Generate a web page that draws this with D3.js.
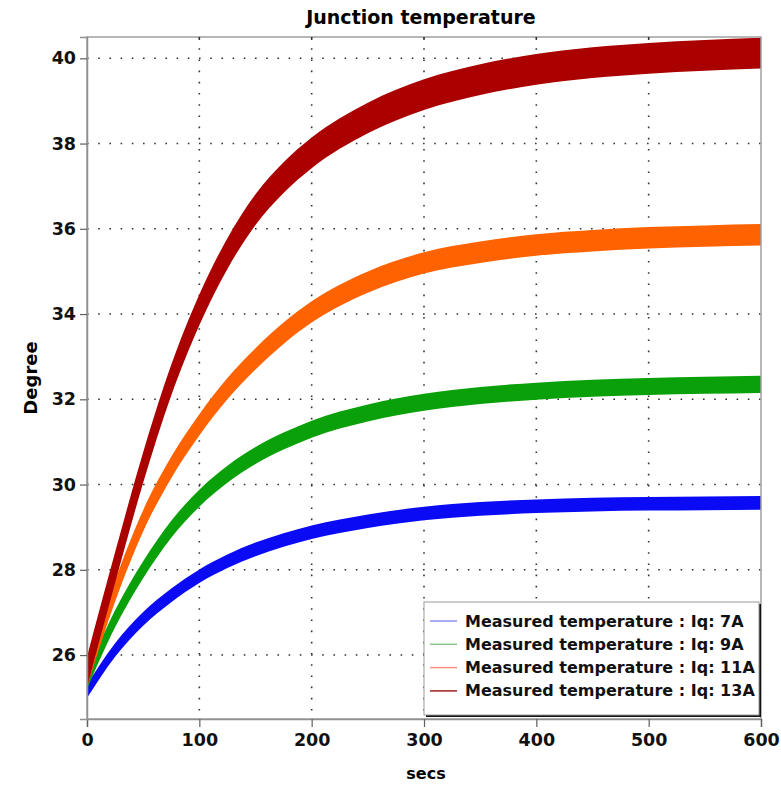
<!DOCTYPE html>
<html>
<head>
<meta charset="utf-8">
<script src="https://cdn.jsdelivr.net/npm/d3@7.9.0/dist/d3.min.js"></script>
<style>
  body { margin: 0; background: #fff; }
  svg { display: block; font-family: "DejaVu Sans", sans-serif; }
</style>
</head>
<body>
<svg id="chart" width="781" height="787"></svg>
<script>
// time axis (secs) and read-off band centres (Degree)
const times = [0, 25, 50, 75, 100, 125, 150, 175, 200, 250, 300, 350, 400, 450, 500, 550, 600];
const temp7A  = [25.15, 26.12, 26.85, 27.4, 27.85, 28.2, 28.48, 28.7, 28.88, 29.14, 29.32, 29.43, 29.49, 29.53, 29.55, 29.56, 29.57];
const temp9A  = [25.4, 26.85, 28.0, 28.95, 29.68, 30.24, 30.68, 31.02, 31.3, 31.68, 31.93, 32.09, 32.19, 32.26, 32.3, 32.33, 32.35];
const temp11A = [25.5, 27.5, 29.15, 30.4, 31.4, 32.25, 32.95, 33.55, 34.05, 34.75, 35.2, 35.45, 35.62, 35.72, 35.79, 35.83, 35.86];
const temp13A = [25.6, 28.05, 30.4, 32.45, 34.1, 35.42, 36.45, 37.2, 37.78, 38.6, 39.15, 39.5, 39.74, 39.9, 40.0, 40.07, 40.12];
// measured ripple, full thickness of each band in degrees
const ripple = [0.32, 0.4, 0.5, 0.72];

const seriesNames = ["Measured temperature : Iq: 7A", "Measured temperature : Iq: 9A",
                     "Measured temperature : Iq: 11A", "Measured temperature : Iq: 13A"];
const bandColors = ["#0a0af5", "#0aa00a", "#ff6200", "#aa0000"];
const legendColors = ["#8c8cf0", "#8cc48c", "#f49080", "#a02020"];
const xTicks = [0, 100, 200, 300, 400, 500, 600];
const yTicks = [26, 28, 30, 32, 34, 36, 38, 40];

const svg = d3.select("#chart");
const margin = { left: 87, top: 37, right: 20, bottom: 68 };
const W = 781 - margin.left - margin.right;
const H = 787 - margin.top - margin.bottom;

const x = d3.scaleLinear().domain([0, 600]).range([0, W]);
const y = d3.scaleLinear().domain([24.5, 40.5]).range([H, 0]);

const g = svg.append("g").attr("transform", `translate(${margin.left},${margin.top})`);

// title
svg.append("text")
    .attr("x", margin.left + W / 2 - 3).attr("y", 24)
    .attr("text-anchor", "middle")
    .attr("font-size", 19).attr("font-weight", "bold")
    .text("Junction temperature");

// dotted grid
const grid = g.append("g").attr("stroke", "#333").attr("stroke-width", 1.6)
    .attr("stroke-dasharray", "1.6 9.6");
xTicks.slice(1, -1).forEach(t => {
    grid.append("line").attr("x1", x(t)).attr("x2", x(t)).attr("y1", 0).attr("y2", H);
});
yTicks.forEach(t => {
    grid.append("line").attr("x1", 0).attr("x2", W).attr("y1", y(t)).attr("y2", y(t));
});

// bands
const series = [temp7A, temp9A, temp11A, temp13A];
series.forEach((vals, i) => {
    const pts = times.map((t, k) => ({ t, v: vals[k] }));
    const area = d3.area()
        .x(d => x(d.t))
        .y0(d => y(d.v - ripple[i] / 2))
        .y1(d => y(d.v + ripple[i] / 2))
        .curve(d3.curveMonotoneX);
    g.append("path").attr("d", area(pts)).attr("fill", bandColors[i]);
});

// frame
g.append("rect").attr("width", W).attr("height", H)
    .attr("fill", "none").attr("stroke", "#a0a0a0").attr("stroke-width", 1.5);

// axes
const xAxis = g.append("g").attr("transform", `translate(0,${H})`)
    .call(d3.axisBottom(x).tickValues(xTicks).tickSize(8).tickPadding(7));
const yAxis = g.append("g")
    .call(d3.axisLeft(y).tickValues(yTicks).tickSize(7).tickPadding(4));
[xAxis, yAxis].forEach(a => {
    a.select(".domain").attr("stroke", "#909090").attr("stroke-width", 1.5);
    a.selectAll(".tick line").attr("stroke", "#606060").attr("stroke-width", 1.2);
    a.selectAll(".tick text").attr("font-family", "DejaVu Sans").attr("font-size", 17.5)
        .attr("font-weight", "bold").attr("fill", "#111");
});

// small ticks on the top border
xTicks.slice(1, -1).forEach(t => {
    g.append("line").attr("x1", x(t)).attr("x2", x(t)).attr("y1", 0).attr("y2", 3)
        .attr("stroke", "#333").attr("stroke-width", 1.5);
});

// axis titles
svg.append("text")
    .attr("x", margin.left + W / 2 + 2).attr("y", 779)
    .attr("text-anchor", "middle").attr("font-size", 16).attr("font-weight", "bold")
    .text("secs");
svg.append("text")
    .attr("transform", `translate(37,${margin.top + H / 2}) rotate(-90)`)
    .attr("text-anchor", "middle").attr("font-size", 18).attr("font-weight", "bold")
    .text("Degree");

// legend
const lg = svg.append("g").attr("transform", "translate(424,602)");
const lw = 335, lh = 113;
lg.append("rect").attr("x", 2).attr("y", 2).attr("width", lw).attr("height", lh).attr("fill", "#111");
lg.append("rect").attr("width", lw).attr("height", lh)
    .attr("fill", "#fff").attr("stroke", "#999").attr("stroke-width", 1);
seriesNames.forEach((name, i) => {
    const yy = 19 + i * 23.3;
    lg.append("line").attr("x1", 6).attr("x2", 33).attr("y1", yy).attr("y2", yy)
        .attr("stroke", legendColors[i]).attr("stroke-width", 1.5);
    lg.append("text").attr("x", 41).attr("y", yy + 5.5)
        .attr("font-size", 16).attr("font-weight", "bold").attr("fill", "#111")
        .text(name);
});
</script>
</body>
</html>
